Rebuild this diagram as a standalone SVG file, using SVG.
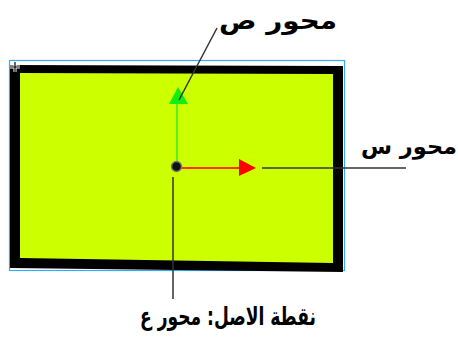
<svg xmlns="http://www.w3.org/2000/svg" width="458" height="341" viewBox="0 0 458 341">
<style>
.lbl{font-family:"DejaVu Sans","Noto Sans",sans-serif;font-weight:bold;fill:#000;}
.lead{stroke:#333;stroke-width:1.5;fill:none;}
</style>
<rect width="458" height="341" fill="#fff"/>
<g id="plane">
<rect x="9.5" y="60.5" width="335" height="210" fill="none" stroke="#3aa8f0" stroke-width="1.2"/>
<polygon points="10,65 343,66 343,272 10,268" fill="#000"/>
<polygon points="20,73 333,74 333,263 20,258" fill="#ccff00"/>
<path d="M15,62 V72 M10,67 H20" stroke="#fff" stroke-width="3"/>
<path d="M15,62 V72 M10,67 H20" stroke="#000" stroke-width="1.2"/>
</g>
<g id="axes">
<line x1="177" y1="166" x2="177" y2="102" stroke="#33ee33" stroke-width="1.5"/>
<polygon points="178,87 169,104 188,104" fill="#11ee11"/>
<line x1="178" y1="168" x2="241" y2="168" stroke="#ff3300" stroke-width="2"/>
<polygon points="256,168 239,159 239,176" fill="#ff0000"/>
<circle cx="176.5" cy="166.5" r="5" fill="#111" stroke="#777" stroke-width="1.4"/>
</g>
<g id="connectors">
<line class="lead" x1="179" y1="100" x2="217" y2="28"/>
<line class="lead" x1="262" y1="168" x2="406" y2="168"/>
<line class="lead" x1="173" y1="177" x2="173" y2="299"/>
</g>
<g id="label-y"><text class="lbl" x="278" y="29" font-size="24" text-anchor="middle" textLength="118" lengthAdjust="spacingAndGlyphs">محور ص</text></g>
<g id="label-x"><text class="lbl" x="409" y="154" font-size="22" text-anchor="middle" textLength="96" lengthAdjust="spacingAndGlyphs">محور س</text></g>
<g id="label-z"><text class="lbl" x="228" y="325" font-size="25" text-anchor="middle" textLength="176" lengthAdjust="spacingAndGlyphs">نقطة الاصل: محور ع</text></g>
</svg>
